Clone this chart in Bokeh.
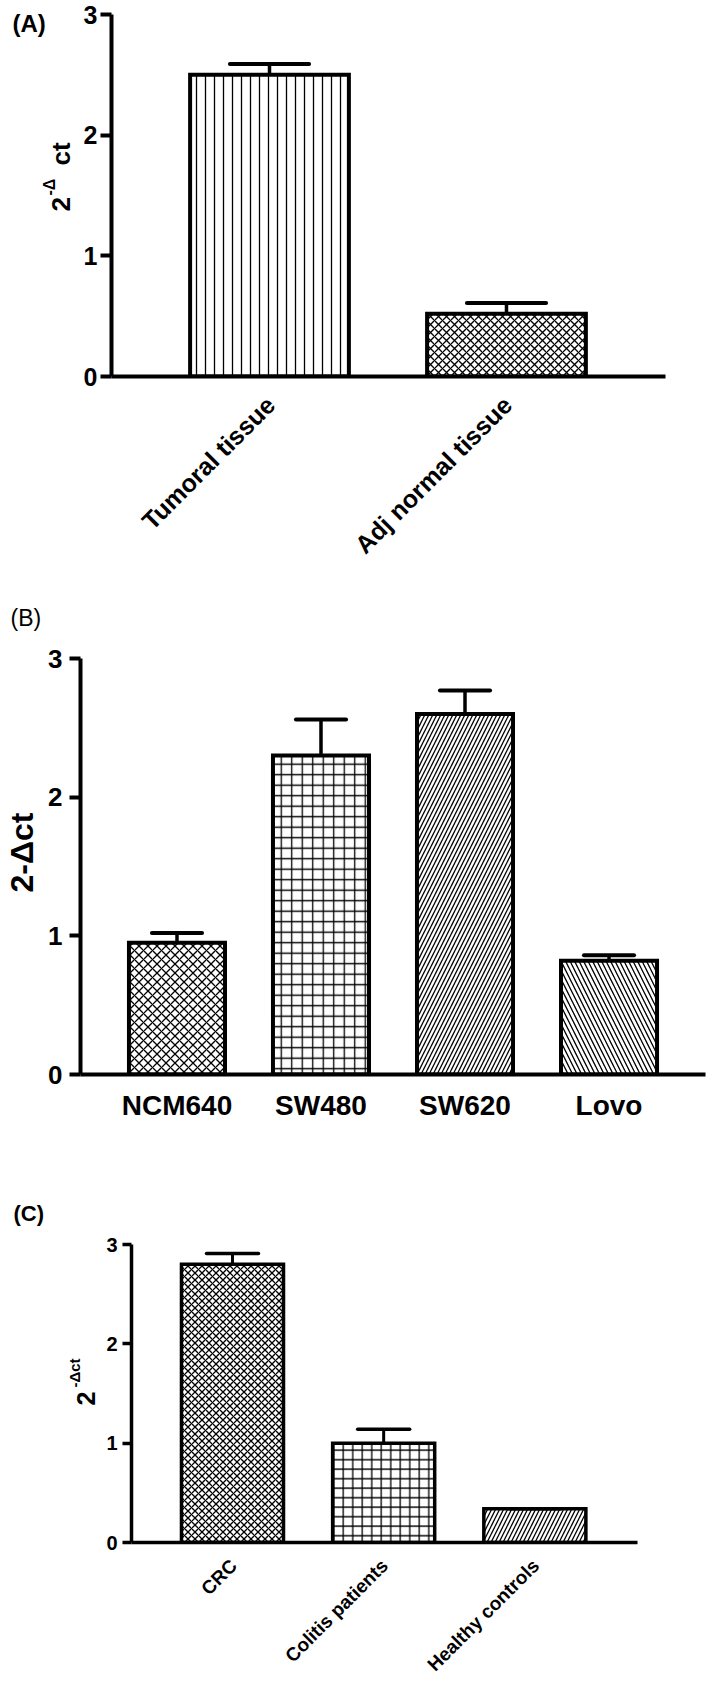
import numpy as np
from bokeh.plotting import figure
from bokeh.models import Range1d, FixedTicker
from bokeh.layouts import column, row
from bokeh.core.properties import value
from bokeh.embed import file_html
from bokeh.resources import INLINE

FONT = "Liberation Sans"
W = 709

# ---------------- data ----------------
y_ticks = [0, 1, 2, 3]

a_categories = ["Tumoral tissue", "Adj normal tissue"]
a_values = [2.50, 0.52]
a_errors = [0.09, 0.09]

b_categories = ["NCM640", "SW480", "SW620", "Lovo"]
b_values = [0.95, 2.30, 2.60, 0.82]
b_errors = [0.07, 0.26, 0.17, 0.04]

c_categories = ["CRC", "Colitis patients", "Healthy controls"]
c_values = [2.80, 1.00, 0.34]
c_errors = [0.11, 0.14, 0.0]

# ---------------- styles ----------------
a_hatch = ["vertical_line", "diagonal_cross"]
a_hscale = [9, 8]
b_hatch = ["diagonal_cross", "cross", "right_diagonal_line", "left_diagonal_line"]
b_hscale = [9, 10.5, 8, 9]
c_hatch = ["diagonal_cross", "cross", "right_diagonal_line"]
c_hscale = [7, 9.5, 8]


def blank(p):
    p.outline_line_color = None
    p.background_fill_color = "white"
    p.border_fill_color = "white"
    p.grid.visible = False
    return p


def strip(width, height, x_range, y_top, y_bottom, mbl=0, mbr=0, mbt=0, mbb=0):
    """Axis-less figure; its y data coordinate is minus the page pixel row."""
    p = figure(width=width, height=height, output_backend="svg",
               toolbar_location=None, tools="",
               x_range=x_range, y_range=Range1d(-y_bottom, -y_top),
               x_axis_location=None, y_axis_location=None,
               min_border_left=mbl, min_border_right=mbr,
               min_border_top=mbt, min_border_bottom=mbb)
    return blank(p)


def txt(p, x, y, text, size, weight="bold", angle=0.0, align="left",
        baseline="alphabetic", x_offset=0):
    p.text(x=x, y=[-v for v in y], text=text, angle=angle, x_offset=x_offset,
           text_font=value(FONT), text_font_size=value(f"{size}px"),
           text_font_style=weight, text_color="black",
           text_align=align, text_baseline=baseline)


def panel(page_top, sw, main_h, strip_h, tb, bb, fl, fr, y3, fb, xs, xe,
          cats, vals, errs, hatches, hscales, bar_w, cap_half, lw,
          tick_font, tick_len, tick_standoff):
    unit = (fb - y3) / 3.0
    ytop = (fb - (page_top + tb)) / unit
    width = W - sw
    p = figure(width=width, height=main_h, output_backend="svg",
               toolbar_location=None, tools="",
               x_range=Range1d(xs, xe), y_range=Range1d(0, ytop),
               min_border_left=fl - sw, min_border_right=W - fr,
               min_border_top=tb, min_border_bottom=bb)
    blank(p)

    x = np.arange(1, len(cats) + 1)
    v = np.array(vals, dtype=float)
    up = v + np.array(errs, dtype=float)

    p.vbar(x=x, top=v, bottom=0, width=bar_w, fill_color="white",
           line_color="black", line_width=lw, line_join="miter",
           hatch_pattern=hatches, hatch_scale=hscales, hatch_color="black",
           hatch_weight=1.3)
    p.segment(x0=x, y0=v, x1=x, y1=up, line_color="black", line_width=lw - 0.5)
    p.segment(x0=x - cap_half, y0=up, x1=x + cap_half, y1=up,
              line_color="black", line_width=lw, line_cap="round")

    ya = p.yaxis[0]
    ya.ticker = FixedTicker(ticks=y_ticks, minor_ticks=[])
    ya.bounds = (0, 3)
    ya.axis_line_width = lw
    ya.major_tick_line_width = lw
    ya.major_tick_in = 0
    ya.major_tick_out = tick_len
    ya.minor_tick_in = 0
    ya.minor_tick_out = 0
    ya.major_label_standoff = tick_standoff
    ya.major_label_text_font = FONT
    ya.major_label_text_font_style = "bold"
    ya.major_label_text_font_size = f"{tick_font}px"
    ya.major_label_text_color = "black"

    xa = p.xaxis[0]
    xa.ticker = FixedTicker(ticks=[], minor_ticks=[])
    xa.axis_line_width = lw
    xa.major_tick_in = 0
    xa.major_tick_out = 0
    xa.minor_tick_in = 0
    xa.minor_tick_out = 0
    xa.major_label_text_font_size = "0px"

    left = strip(sw, main_h, Range1d(0, sw), page_top + tb, page_top + main_h - bb,
                 mbt=tb, mbb=bb)
    below = strip(W, strip_h, p.x_range, page_top + main_h,
                  page_top + main_h + strip_h, mbl=fl, mbr=W - fr)
    return p, x, left, below


# ======================= panel A =======================
pa, xa_pos, la, sa = panel(0, 74, 389, 201, 4, 13, 111, 665, 14, 376,
                           0.3333, 2.671, a_categories, a_values, a_errors,
                           a_hatch, a_hscale, 0.67, 0.167, 4, 25, 11, 3)
txt(la, [12], [23], ["(A)"], 24, baseline="middle")
txt(la, [60], [211], ["2"], 26, angle=np.pi / 2)
txt(la, [49], [195], ["-\u0394"], 16, angle=np.pi / 2)
txt(la, [60], [165], ["ct"], 26, angle=np.pi / 2)
txt(sa, xa_pos, [400] * len(xa_pos), a_categories, 25, angle=np.pi / 4,
    align="right", baseline="middle", x_offset=1)

# ======================= panel B =======================
pb, xb_pos, lb, sb = panel(590, 44, 499, 61, 10, 15, 80, 705, 658, 1074,
                           0.330, 4.670, b_categories, b_values, b_errors,
                           b_hatch, b_hscale, 0.667, 0.174, 4, 26, 11, 7)
txt(lb, [10], [617], ["(B)"], 23, weight="normal", baseline="middle")
txt(lb, [21], [852], ["2-\u0394ct"], 32, angle=np.pi / 2, align="center",
    baseline="middle")
txt(sb, xb_pos, [1105] * len(xb_pos), b_categories, 28, align="center",
    baseline="middle")

# ======================= panel C =======================
pc, xc_pos, lc, sc = panel(1150, 100, 403, 126, 10, 11, 131, 637, 1244, 1542,
                           0.332, 3.679, c_categories, c_values, c_errors,
                           c_hatch, c_hscale, 0.675, 0.172, 3.5, 20, 9, 5)
txt(lc, [13], [1213], ["(C)"], 22, baseline="middle")
txt(lc, [85], [1405], ["2"], 25, angle=np.pi / 2)
txt(lc, [74], [1387], ["-\u0394ct"], 15, angle=np.pi / 2)
txt(sc, xc_pos, [1562] * len(xc_pos), c_categories, 19, angle=np.pi / 4,
    align="right", baseline="middle", x_offset=1)

layout = column(
    column(row(la, pa, spacing=0), sa, spacing=0),
    column(row(lb, pb, spacing=0), sb, spacing=0),
    column(row(lc, pc, spacing=0), sc, spacing=0),
    spacing=0)
open("out.html", "w").write(file_html(layout, INLINE))
